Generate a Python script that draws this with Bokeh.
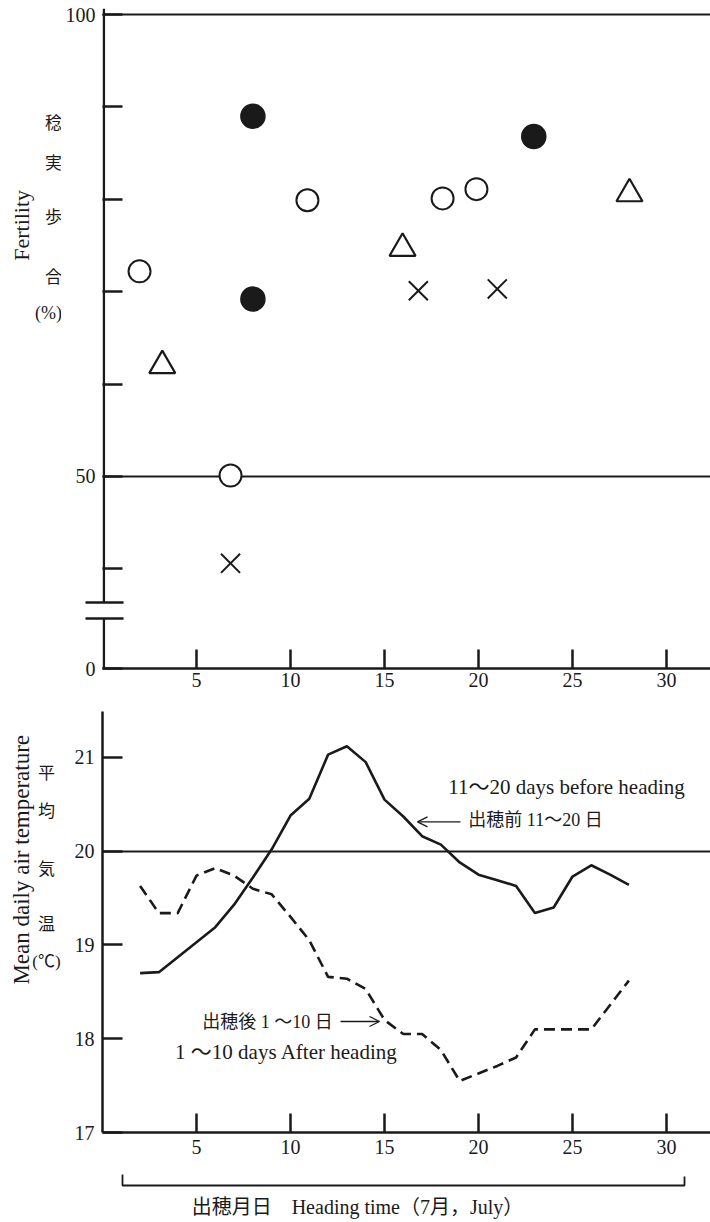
from math import pi
from bokeh.plotting import figure
from bokeh.layouts import column, row
from bokeh.models import Arrow, OpenHead, Range1d, FixedTicker
from bokeh.core.properties import value
from bokeh.embed import file_html
from bokeh.resources import INLINE

# ---------------- data ----------------
# Upper panel: fertility (%) by heading date (July)
open_day = [1.97, 6.81, 10.9, 18.09, 19.89]
open_fert = [72.2, 50.1, 79.9, 80.1, 81.1]
filled_day = [8.0, 8.0, 22.94]
filled_fert = [89.0, 69.2, 86.8]
tri_day = [3.18, 15.96, 28.03]
tri_fert = [62.0, 74.7, 80.6]
cross_day = [6.81, 16.8, 21.0]
cross_fert = [40.6, 70.1, 70.3]

# Lower panel: mean daily air temperature
temp_day = list(range(2, 29))
temp_before = [18.70, 18.71, 18.87, 19.03, 19.19, 19.43, 19.72, 20.02, 20.38, 20.56,
               21.03, 21.12, 20.95, 20.55, 20.37, 20.16, 20.07, 19.88, 19.75, 19.69,
               19.63, 19.34, 19.40, 19.73, 19.85, 19.75, 19.64]
temp_after = [19.63, 19.34, 19.34, 19.74, 19.82, 19.74, 19.60, 19.54, 19.30, 19.05,
              18.66, 18.64, 18.53, 18.20, 18.05, 18.05, 17.88, 17.55, 17.63, 17.71,
              17.80, 18.10, 18.10, 18.10, 18.10, 18.36, 18.62]

x_ticks = [5, 10, 15, 20, 25, 30]
fert_ticks = [40, 50, 60, 70, 80, 90, 100]
fert_zero_pos = 29.22          # where the broken axis shows "0"
fert_break = [34.6, 36.4]      # the two break marks on the fertility axis
fert_labels = {50: "50", 100: "100"}
temp_ticks = [17, 18, 19, 20, 21]

# ---------------- style helpers ----------------
INK = "#1a1a1a"
SERIF = "Liberation Serif"
MIX = "Liberation Serif, Noto Sans CJK JP"
CJK = "Noto Sans CJK JP"

W = 710
M = 61                 # width of the left text margin figures
FRAME_LEFT = 102
X_END = (W - FRAME_LEFT) / 18.8
H1 = 700
H2 = 460


def tx(px):
    return (px - FRAME_LEFT) / 18.8


def ty_bot(py):
    return 17 + (1132 - py) / 93.75


def style_common(p):
    p.outline_line_color = None
    p.background_fill_color = "white"
    p.border_fill_color = "white"
    p.xgrid.visible = False
    ax = p.xaxis[0]
    ax.ticker = FixedTicker(ticks=x_ticks)
    ax.major_tick_in = 19
    ax.major_tick_out = 0
    ax.minor_tick_line_color = None
    ax.major_tick_line_width = 2.5
    ax.major_tick_line_color = INK
    ax.axis_line_width = 2.5
    ax.axis_line_color = INK
    ax.major_label_text_font = SERIF
    ax.major_label_text_font_size = "20px"
    ax.major_label_text_color = INK
    ax.major_label_standoff = 4
    ay = p.yaxis[0]
    ay.major_tick_in = 20
    ay.major_tick_out = 0
    ay.major_tick_line_width = 2.5
    ay.major_tick_line_color = INK
    ay.axis_line_width = 2.5
    ay.axis_line_color = INK
    ay.major_label_text_font = SERIF
    ay.major_label_text_font_size = "20px"
    ay.major_label_text_color = INK
    ay.major_label_standoff = 8


def seg(p, x0, y0, x1, y1, w=2.5):
    p.add_layout(Arrow(end=None, x_start=x0, y_start=y0, x_end=x1, y_end=y1,
                       line_color=INK, line_width=w))


def txt(p, x, y, text, size, font=SERIF, angle=0.0):
    p.text(x=[x], y=[y], text=[text], text_font=value(font),
           text_font_size=value(size), text_color=INK, text_align="center",
           text_baseline="middle", angle=angle)


def margin_fig(h):
    m = figure(width=M, height=h, x_range=Range1d(0, M), y_range=Range1d(0, h),
               x_axis_type=None, y_axis_type=None, output_backend="svg",
               toolbar_location=None, min_border=0)
    m.outline_line_color = None
    m.xgrid.visible = False
    m.ygrid.visible = False
    return m


# ---------------- upper panel ----------------
p1 = figure(width=W - M, height=H1, x_range=Range1d(0, X_END),
            y_range=Range1d(fert_zero_pos, 100.65),
            output_backend="svg", toolbar_location=None,
            min_border_left=FRAME_LEFT - M, min_border_right=0, min_border_top=8,
            min_border_bottom=32)
style_common(p1)
ay1 = p1.yaxis[0]
ay1.ticker = FixedTicker(ticks=[fert_zero_pos] + fert_ticks, minor_ticks=fert_break)
overrides = {t: "" for t in fert_ticks}
overrides.update(fert_labels)
overrides[fert_zero_pos] = "0"
ay1.major_label_overrides = overrides
ay1.axis_line_color = None
ay1.minor_tick_in = 21
ay1.minor_tick_out = 17
ay1.minor_tick_line_width = 2.3
ay1.minor_tick_line_color = INK
ay1.major_label_standoff = -10    # labels measured from the break-mark extent
p1.ygrid.ticker = FixedTicker(ticks=[50, 100])
p1.ygrid.grid_line_color = INK
p1.ygrid.grid_line_width = 1.8

# broken left axis line (gap between the break marks)
seg(p1, 0.07, fert_zero_pos, 0.07, fert_break[0])
seg(p1, 0.07, fert_break[1], 0.07, 100.65)

p1.scatter(open_day, open_fert, marker="circle", size=22, fill_color="white",
           line_color=INK, line_width=2)
p1.scatter(filled_day, filled_fert, marker="circle", size=24, fill_color=INK,
           line_color=INK, line_width=1.5)
p1.scatter(tri_day, tri_fert, marker="triangle", size=26, fill_color="white",
           line_color=INK, line_width=2.2)
p1.scatter(cross_day, cross_fert, marker="x", size=27, line_color=INK,
           line_width=2)

m1 = margin_fig(H1)
txt(m1, 21, H1 - 230, "Fertility", "22px", SERIF, pi / 2)
for ch, py in [("稔", 120), ("実", 162), ("歩", 220), ("合", 283)]:
    txt(m1, 53, H1 - py, ch, "17px", CJK)
txt(m1, 48, H1 - 323, "(%)", "18px", SERIF)

# ---------------- lower panel ----------------
p2 = figure(width=W - M, height=H2, x_range=Range1d(0, X_END),
            y_range=Range1d(17, 21.49),
            output_backend="svg", toolbar_location=None,
            min_border_left=FRAME_LEFT - M, min_border_right=0, min_border_top=11,
            min_border_bottom=28)
style_common(p2)
p2.xaxis[0].major_label_standoff = 7
p2.yaxis[0].ticker = FixedTicker(ticks=temp_ticks)
p2.yaxis[0].minor_tick_line_color = None
p2.ygrid.ticker = FixedTicker(ticks=[20])
p2.ygrid.grid_line_color = INK
p2.ygrid.grid_line_width = 1.8

p2.line(temp_day, temp_before, line_width=2.6, line_color=INK)
p2.line(temp_day, temp_after, line_width=2.6, line_color=INK, line_dash="11 6")

txt(p2, tx(566), ty_bot(787), "11～20 days before heading", "21px", MIX)
txt(p2, tx(535), ty_bot(820), "出穂前 11～20 日", "18px", MIX)
p2.add_layout(Arrow(end=OpenHead(size=10, line_width=1.3, line_color=INK),
                    x_start=tx(460), y_start=ty_bot(821.5),
                    x_end=tx(417), y_end=ty_bot(821.5),
                    line_color=INK, line_width=1.3))
txt(p2, tx(267), ty_bot(1021.5), "出穂後 1 ～10 日", "18px", MIX)
p2.add_layout(Arrow(end=OpenHead(size=10, line_width=1.3, line_color=INK),
                    x_start=tx(340), y_start=ty_bot(1021),
                    x_end=tx(379), y_end=ty_bot(1021),
                    line_color=INK, line_width=1.3))
txt(p2, tx(286), ty_bot(1052), "1 ～10 days After heading", "21px", MIX)

m2 = margin_fig(H2)
B2 = H1 + H2
txt(m2, 21, B2 - 862, "Mean daily air temperature", "23px", SERIF, pi / 2)
for ch, py in [("平", 766), ("均", 807), ("気", 870), ("温", 930)]:
    txt(m2, 46, B2 - py, ch, "17px", CJK)
txt(m2, 46, B2 - 973, "(℃)", "17px", MIX)

# ---------------- heading-time bracket ----------------
H3 = 1222 - B2
p3 = figure(width=W, height=H3, x_range=p2.x_range, y_range=Range1d(0, H3),
            x_axis_type=None, y_axis_type=None, output_backend="svg",
            toolbar_location=None, min_border_left=FRAME_LEFT, min_border_right=0,
            min_border_top=0, min_border_bottom=0)
p3.outline_line_color = None
p3.xgrid.visible = False
p3.ygrid.visible = False
p3.line(x=[tx(122), tx(122), tx(684), tx(684)],
        y=[1222 - 1174, 1222 - 1185, 1222 - 1185, 1222 - 1176],
        line_color=INK, line_width=1.8)
txt(p3, tx(357), 1222 - 1206, "出穂月日　Heading time（7月，July）", "20px", MIX)

layout = column(row(m1, p1, spacing=0), row(m2, p2, spacing=0), p3, spacing=0)
open("out.html", "w").write(file_html(layout, INLINE))
